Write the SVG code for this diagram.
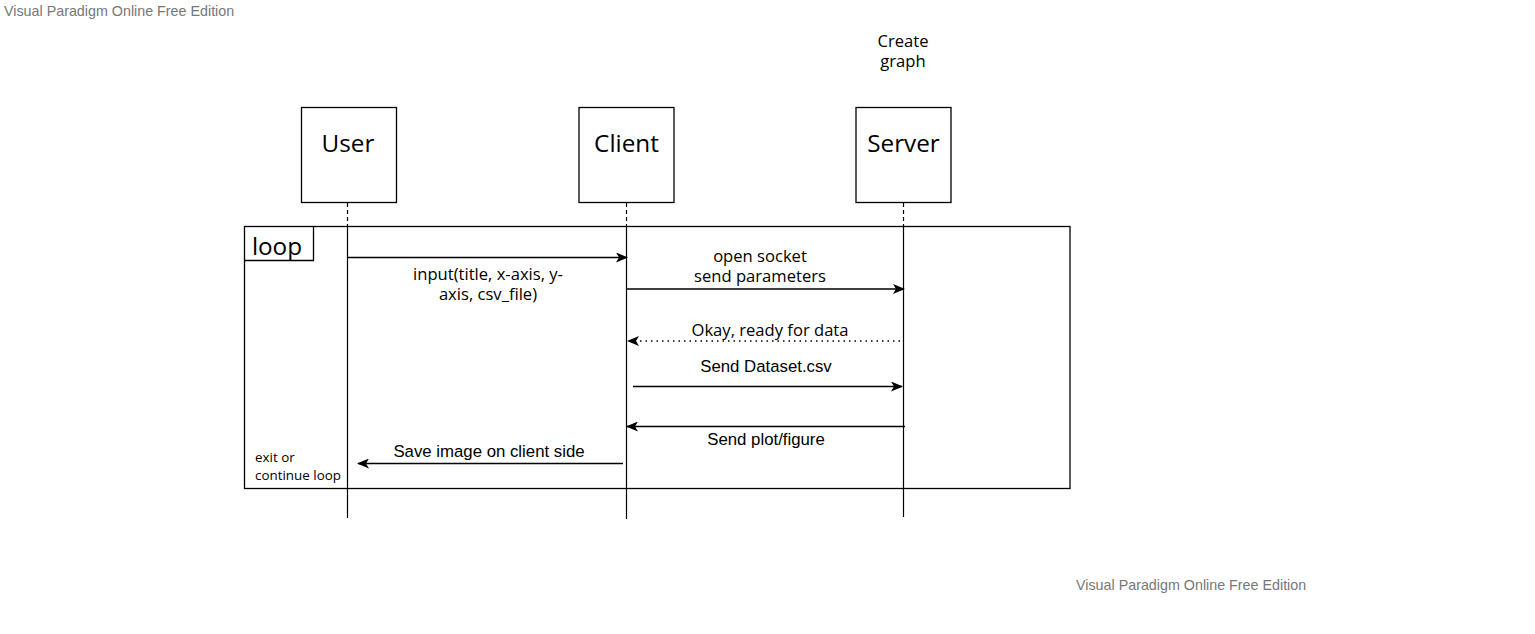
<svg xmlns="http://www.w3.org/2000/svg" width="1535" height="634" viewBox="0 0 1535 634">
<style>
.box{fill:#fff;stroke:#000;stroke-width:1.3}
.ttl{font-family:"Open Sans","Noto Sans",sans-serif;font-size:24.3px;fill:#000;text-anchor:middle}
.lbl{font-family:"Open Sans","Noto Sans",sans-serif;font-size:16.6px;fill:#000;text-anchor:middle}
.arl{font-family:"Liberation Sans",Arial,sans-serif;font-size:16.8px;fill:#000;text-anchor:middle}
.wm{font-family:"Liberation Sans",Arial,sans-serif;font-size:14.3px;fill:#777}
.msg{stroke:#000;stroke-width:1.3;fill:none}
.life{stroke:#000;stroke-width:1.2}
.dash{stroke:#000;stroke-width:1.2;stroke-dasharray:4 3}
.sm{font-family:"Open Sans","Noto Sans",sans-serif;font-size:13.4px;fill:#000}
</style>
<defs>
<marker id="ah" viewBox="0 0 12 10" refX="11" refY="5" markerWidth="12" markerHeight="10" markerUnits="userSpaceOnUse" orient="auto">
<path d="M0,0 L12,5 L0,10 L3,5 Z" fill="#000"/>
</marker>
</defs>
<rect width="1535" height="634" fill="#fff"/>
<text class="wm" x="4" y="16">Visual Paradigm Online Free Edition</text>
<text class="wm" x="1076" y="590">Visual Paradigm Online Free Edition</text>

<g id="loop">
<rect x="244.5" y="226.5" width="825.5" height="262" fill="none" stroke="#000" stroke-width="1.3"/>
<path d="M244.5,260.5 H313.5 V226.5" fill="none" stroke="#000" stroke-width="1.3"/>
<text x="277" y="255" class="ttl">loop</text>
<text x="255" y="462" class="sm">exit or</text>
<text x="255" y="480" class="sm">continue loop</text>
</g>

<g id="user">
<rect class="box" x="301.5" y="107.5" width="95" height="95"/>
<text class="ttl" x="348" y="152">User</text>
<line class="dash" x1="347.5" y1="203" x2="347.5" y2="226"/>
<line class="life" x1="347.5" y1="226" x2="347.5" y2="518"/>
</g>

<g id="client">
<rect class="box" x="579" y="107.5" width="95" height="95"/>
<text class="ttl" x="626.5" y="152">Client</text>
<line class="dash" x1="626.5" y1="203" x2="626.5" y2="226"/>
<line class="life" x1="626.5" y1="226" x2="626.5" y2="519"/>
</g>

<g id="server">
<rect class="box" x="856" y="107.5" width="95" height="95"/>
<text class="ttl" x="903.5" y="152">Server</text>
<text class="lbl" x="903" y="47">Create</text>
<text class="lbl" x="903" y="67">graph</text>
<line class="dash" x1="903.5" y1="203" x2="903.5" y2="226"/>
<line class="life" x1="903.5" y1="226" x2="903.5" y2="517"/>
</g>

<g id="connectors">
<line class="msg" x1="347.5" y1="257.5" x2="627" y2="257.5" marker-end="url(#ah)"/>
<text class="lbl" x="488" y="280">input(title, x-axis, y-</text>
<text class="lbl" x="488" y="300">axis, csv_file)</text>

<line class="msg" x1="627" y1="289" x2="904" y2="289" marker-end="url(#ah)"/>
<text class="lbl" x="760" y="262">open socket</text>
<text class="lbl" x="760" y="282">send parameters</text>

<line class="msg" x1="900" y1="341" x2="628" y2="341" stroke-dasharray="1.5 4" marker-end="url(#ah)"/>
<text class="lbl" x="770" y="336">Okay, ready for data</text>

<line class="msg" x1="633" y1="386.5" x2="902" y2="386.5" marker-end="url(#ah)"/>
<text class="arl" x="766" y="372">Send Dataset.csv</text>

<line class="msg" x1="905" y1="426.5" x2="627" y2="426.5" marker-end="url(#ah)"/>
<text class="arl" x="766" y="445">Send plot/figure</text>

<line class="msg" x1="623" y1="463.5" x2="358" y2="463.5" marker-end="url(#ah)"/>
<text class="arl" x="489" y="457">Save image on client side</text>
</g>
</svg>
